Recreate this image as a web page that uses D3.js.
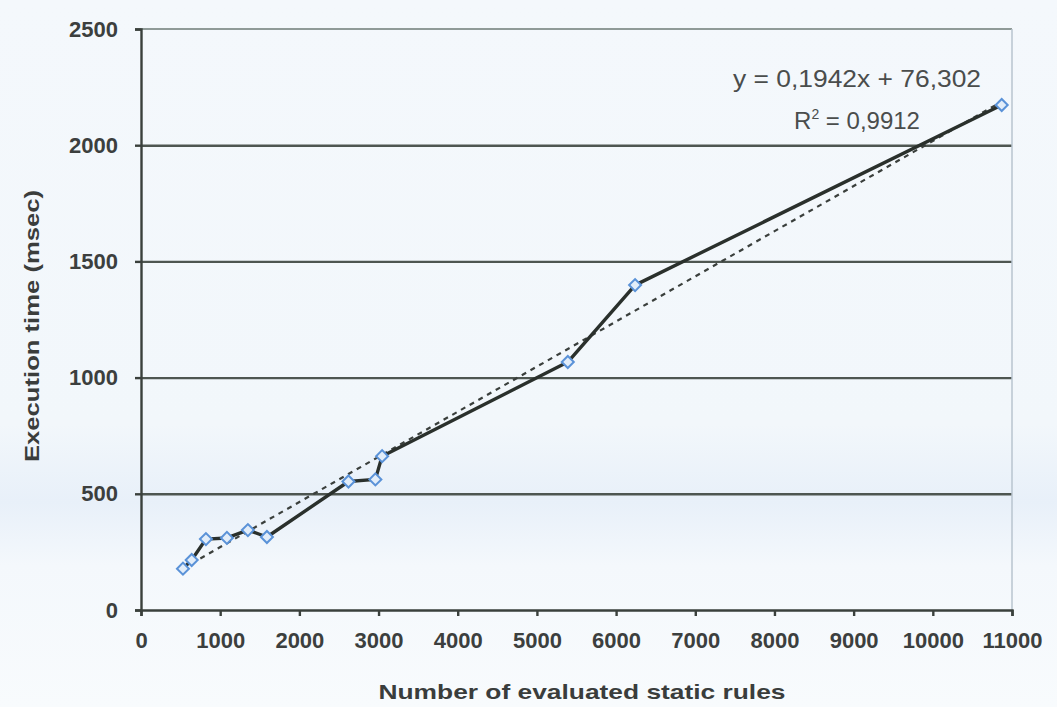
<!DOCTYPE html>
<html>
<head>
<meta charset="utf-8">
<script src="https://cdn.jsdelivr.net/npm/d3@7"></script>
<style>
  html, body { margin: 0; padding: 0; background: #f5f9fd; }
  svg { display: block; }
  text { font-family: "Liberation Sans", Arial, sans-serif; }
</style>
</head>
<body>
<svg id="chart" width="1057" height="707"></svg>
<script>
// Measured execution time versus number of evaluated static rules
const ruleCounts = [530, 640, 820, 1085, 1350, 1590, 2620, 2960, 3045, 5390, 6240, 10870];
const execTimes  = [178, 215, 305, 310, 344, 314, 553, 562, 662, 1067, 1398, 2173];

// Linear trend line coefficients (as printed on the chart)
const trendSlope = 0.1942;
const trendIntercept = 76.302;
const trendLabel = "y = 0,1942x + 76,302";
const r2Label = "0,9912";

const xTicks = [0, 1000, 2000, 3000, 4000, 5000, 6000, 7000, 8000, 9000, 10000, 11000];
const yTicks = [0, 500, 1000, 1500, 2000, 2500];

const xTitle = "Number of evaluated static rules";
const yTitle = "Execution time (msec)";

const W = 1057, H = 707;
const margin = { left: 141, right: 45, top: 29, bottom: 97 };
const plotW = W - margin.left - margin.right;
const plotH = H - margin.top - margin.bottom;

const svg = d3.select("#chart");

// paper background with a slight bluish tint
const defs = svg.append("defs");
const bg = defs.append("linearGradient").attr("id", "paper")
  .attr("x1", 0).attr("y1", 0).attr("x2", 0).attr("y2", 1);
bg.append("stop").attr("offset", "0%").attr("stop-color", "#f4f8fc");
bg.append("stop").attr("offset", "60%").attr("stop-color", "#f2f7fb");
bg.append("stop").attr("offset", "71%").attr("stop-color", "#e8f0f9");
bg.append("stop").attr("offset", "80%").attr("stop-color", "#f4f8fc");
bg.append("stop").attr("offset", "100%").attr("stop-color", "#f8fbfd");
svg.append("rect").attr("width", W).attr("height", H).attr("fill", "url(#paper)");

const x = d3.scaleLinear().domain([0, 11000]).range([0, plotW]);
const y = d3.scaleLinear().domain([0, 2500]).range([plotH, 0]);

const g = svg.append("g").attr("transform", `translate(${margin.left},${margin.top})`);

// horizontal gridlines
g.append("g")
  .call(d3.axisLeft(y).tickValues(yTicks.filter(v => v > 0 && v < 2500)).tickSize(-plotW).tickFormat(""))
  .call(s => s.select(".domain").remove())
  .call(s => s.selectAll("line").attr("stroke", "#4e5651").attr("stroke-width", 2.4));

// plot area top and right border
g.append("line").attr("x1", 0).attr("x2", plotW).attr("y1", y(2500)).attr("y2", y(2500))
  .attr("stroke", "#8f9a98").attr("stroke-width", 2);
g.append("line").attr("x1", plotW).attr("x2", plotW).attr("y1", 0).attr("y2", plotH)
  .attr("stroke", "#b9c5cf").attr("stroke-width", 1.5);

const tickFont = 22;

// y axis
const yAxis = g.append("g")
  .call(d3.axisLeft(y).tickValues(yTicks).tickSize(6).tickPadding(17).tickFormat(d3.format("d")));
yAxis.select(".domain").attr("stroke", "#3a403c").attr("stroke-width", 2.4);
yAxis.selectAll(".tick line").attr("stroke", "#3a403c").attr("stroke-width", 2.4);
yAxis.selectAll("text").attr("font-size", tickFont).attr("font-weight", "bold").attr("fill", "#3c3f3e")
  .attr("font-family", "Liberation Sans, Arial, sans-serif");

// x axis
const xAxis = g.append("g").attr("transform", `translate(0,${plotH})`)
  .call(d3.axisBottom(x).tickValues(xTicks).tickSize(6).tickPadding(16).tickFormat(d3.format("d")));
xAxis.select(".domain").attr("stroke", "#3a403c").attr("stroke-width", 2.4);
xAxis.selectAll(".tick line").attr("stroke", "#3a403c").attr("stroke-width", 2.4);
xAxis.selectAll("text").attr("font-size", tickFont).attr("font-weight", "bold").attr("fill", "#3c3f3e")
  .attr("font-family", "Liberation Sans, Arial, sans-serif");

// dashed linear trend across the measured range
const xMin = d3.min(ruleCounts), xMax = d3.max(ruleCounts);
g.append("line")
  .attr("x1", x(xMin)).attr("y1", y(trendSlope * xMin + trendIntercept))
  .attr("x2", x(xMax)).attr("y2", y(trendSlope * xMax + trendIntercept))
  .attr("stroke", "#3a3f3c").attr("stroke-width", 2.2).attr("stroke-dasharray", "5,5");

// measured series
const pts = ruleCounts.map((c, i) => [c, execTimes[i]]);
g.append("path").datum(pts)
  .attr("fill", "none").attr("stroke", "#2a302c").attr("stroke-width", 3.4)
  .attr("stroke-linejoin", "round")
  .attr("d", d3.line().x(d => x(d[0])).y(d => y(d[1])));

// diamond markers
g.selectAll(".marker").data(pts).enter().append("path")
  .attr("class", "marker")
  .attr("transform", d => `translate(${x(d[0])},${y(d[1])}) rotate(45)`)
  .attr("d", d3.symbol().type(d3.symbolSquare).size(72))
  .attr("fill", "#e2edf9").attr("stroke", "#5a92d8").attr("stroke-width", 2);

// equation and R² annotation
svg.append("text").attr("x", 857).attr("y", 87).attr("text-anchor", "middle")
  .attr("font-size", 24).attr("fill", "#4a4d4c")
  .attr("textLength", 248).attr("lengthAdjust", "spacingAndGlyphs")
  .text(trendLabel);
const r2 = svg.append("text").attr("x", 857).attr("y", 129).attr("text-anchor", "middle")
  .attr("font-size", 24).attr("fill", "#4a4d4c");
r2.append("tspan").text("R");
r2.append("tspan").attr("font-size", 14).attr("dy", -10).text("2");
r2.append("tspan").attr("dy", 10).text(" = " + r2Label);

// axis titles
svg.append("text").attr("x", 582).attr("y", 699).attr("text-anchor", "middle")
  .attr("font-size", 21).attr("font-weight", "bold").attr("fill", "#3a3d3c")
  .attr("textLength", 407).attr("lengthAdjust", "spacingAndGlyphs")
  .text(xTitle);
svg.append("text").attr("transform", "translate(39,326) rotate(-90)").attr("text-anchor", "middle")
  .attr("font-size", 20).attr("font-weight", "bold").attr("fill", "#3a3d3c")
  .attr("textLength", 272).attr("lengthAdjust", "spacingAndGlyphs")
  .text(yTitle);
</script>
</body>
</html>
